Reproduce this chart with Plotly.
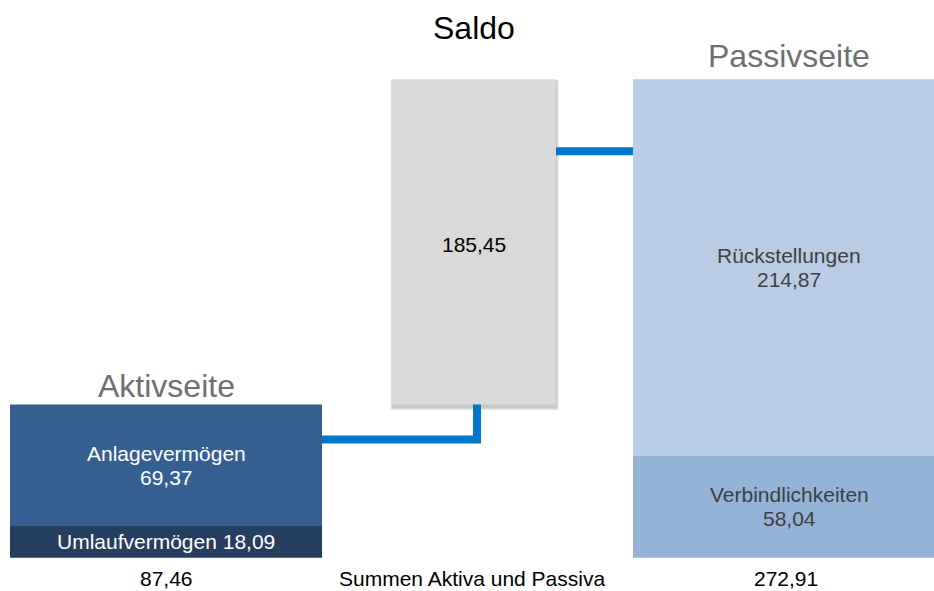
import plotly.graph_objects as go

# ---- data ----
aktiv_labels = ["Umlaufvermögen", "Anlagevermögen"]
aktiv_values = [18.09, 69.37]
passiv_labels = ["Verbindlichkeiten", "Rückstellungen"]
passiv_values = [58.04, 214.87]
saldo_label = "Saldo"
saldo_value = 185.45
side_titles = ["Aktivseite", "Passivseite"]
bottom_caption = "Summen Aktiva und Passiva"

# ---- styling / layout ----
W, H = 934, 591
FONT = "Liberation Sans, Arial, sans-serif"
X_AKTIV, X_SALDO, X_PASSIV = 166, 474, 789
W_SIDE, W_SALDO = 312, 164
aktiv_colors = ["#263f60", "#365f91"]
passiv_colors = ["#95b3d7", "#b8cce4"]
saldo_color = "#d9d9d9"
connector_color = "#0077c8"
px_per_unit = 1.753
zero_px = 557.7


def de(v):
    return f"{v:.2f}".replace(".", ",")


aktiv_total = round(sum(aktiv_values), 2)
passiv_total = round(sum(passiv_values), 2)

fig = go.Figure()

# Aktiv stack
base = 0
for lab, val, col in zip(aktiv_labels, aktiv_values, aktiv_colors):
    fig.add_trace(go.Bar(x=[X_AKTIV], y=[val], base=[base], width=[W_SIDE],
                         marker=dict(color=col, line=dict(width=0)), name=lab,
                         hoverinfo="name+y"))
    base += val

# Passiv stack
base = 0
for lab, val, col in zip(passiv_labels, passiv_values, passiv_colors):
    fig.add_trace(go.Bar(x=[X_PASSIV], y=[val], base=[base], width=[W_SIDE],
                         marker=dict(color=col, line=dict(width=0)), name=lab,
                         hoverinfo="name+y"))
    base += val

# Saldo floating bar
fig.add_trace(go.Bar(x=[X_SALDO], y=[saldo_value], base=[aktiv_total], width=[W_SALDO],
                     marker=dict(color=saldo_color, line=dict(width=0)), name=saldo_label,
                     hoverinfo="name+y"))

u = 1 / px_per_unit  # one pixel in data units
shapes = []
# soft drop shadow for saldo bar
for i, a in enumerate([0.05, 0.07, 0.10]):
    g = 3 - i
    shapes.append(dict(type="rect", layer="below", xref="x", yref="y",
                       x0=X_SALDO - W_SALDO / 2 - g + 1, x1=X_SALDO + W_SALDO / 2 + g,
                       y0=aktiv_total - (g + 3) * u, y1=aktiv_total + saldo_value - 1 * u,
                       fillcolor=f"rgba(0,0,0,{a})", line=dict(width=0)))

# connectors
conn_low = aktiv_total - 20.0
conn_high = passiv_total - 41.0
x_join = X_SALDO + 3
shapes.append(dict(type="path", xref="x", yref="y", layer="above",
                   path=f"M {X_AKTIV + W_SIDE/2},{conn_low} L {x_join},{conn_low} L {x_join},{aktiv_total}",
                   line=dict(color=connector_color, width=8)))
shapes.append(dict(type="line", xref="x", yref="y", layer="above",
                   x0=X_SALDO + W_SALDO / 2, x1=X_PASSIV - W_SIDE / 2,
                   y0=conn_high, y1=conn_high,
                   line=dict(color=connector_color, width=8)))

ann = []


def two_line(x, ycenter, label, value, color):
    ann.append(dict(x=x, y=ycenter, text=label, showarrow=False, yanchor="middle",
                    yshift=12, font=dict(family=FONT, size=21, color=color)))
    ann.append(dict(x=x, y=ycenter, text=value, showarrow=False, yanchor="middle",
                    yshift=-12, font=dict(family=FONT, size=21, color=color)))


# Aktiv labels
umlauf_c = aktiv_values[0] / 2
anlage_c = aktiv_values[0] + aktiv_values[1] / 2
ann.append(dict(x=X_AKTIV, y=umlauf_c, text=f"{aktiv_labels[0]} {de(aktiv_values[0])}",
                showarrow=False, yanchor="middle",
                font=dict(family=FONT, size=21, color="white")))
two_line(X_AKTIV, anlage_c, aktiv_labels[1], de(aktiv_values[1]), "white")

# Passiv labels
two_line(X_PASSIV, passiv_values[0] / 2, passiv_labels[0], de(passiv_values[0]), "#404040")
two_line(X_PASSIV, passiv_values[0] + passiv_values[1] / 2, passiv_labels[1],
         de(passiv_values[1]), "#404040")

# Saldo value
ann.append(dict(x=X_SALDO, y=aktiv_total + saldo_value / 2, text=de(saldo_value),
                showarrow=False, yanchor="middle", yshift=-3,
                font=dict(family=FONT, size=21, color="black")))

# Side titles
ann.append(dict(x=X_AKTIV, y=aktiv_total, text=side_titles[0], showarrow=False,
                yanchor="bottom", yshift=-2, font=dict(family=FONT, size=32, color="#6f6f6f")))
ann.append(dict(x=X_PASSIV, y=passiv_total, text=side_titles[1], showarrow=False,
                yanchor="bottom", yshift=3, font=dict(family=FONT, size=32, color="#6f6f6f")))
ann.append(dict(x=X_SALDO, y=aktiv_total + saldo_value, text=saldo_label, showarrow=False,
                yanchor="bottom", yshift=31, font=dict(family=FONT, size=32, color="black")))

# Bottom sums
for x, t in [(X_AKTIV, de(aktiv_total)), (X_SALDO - 2, bottom_caption), (X_PASSIV - 3, de(passiv_total))]:
    ann.append(dict(x=x, y=0, yref="paper", text=t, showarrow=False, yanchor="bottom",
                    borderpad=0, yshift=0,
                    font=dict(family=FONT, size=21, color="black")))

fig.update_layout(
    width=W, height=H,
    margin=dict(l=0, r=0, t=0, b=0),
    paper_bgcolor="white", plot_bgcolor="white",
    barmode="overlay", showlegend=False,
    shapes=shapes, annotations=ann,
    xaxis=dict(range=[0, W], visible=False, fixedrange=True),
    yaxis=dict(range=[-(H - zero_px) / px_per_unit, zero_px / px_per_unit],
               visible=False, fixedrange=True),
    font=dict(family=FONT),
)

fig.write_html(
    "out.html",
    config={"displayModeBar": False},
    post_script="document.body.style.margin='0';document.body.style.overflow='hidden';",
)
